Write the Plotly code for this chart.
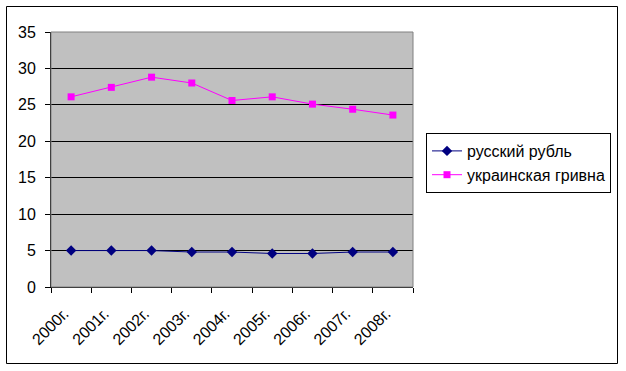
import plotly.graph_objects as go

years = ["2000г.", "2001г.", "2002г.", "2003г.", "2004г.", "2005г.", "2006г.", "2007г.", "2008г."]
rub = [5.0, 5.0, 5.0, 4.8, 4.8, 4.6, 4.6, 4.8, 4.8]
uah = [26.1, 27.4, 28.8, 28.0, 25.6, 26.1, 25.1, 24.4, 23.6]
y_ticks = [0, 5, 10, 15, 20, 25, 30, 35]

W, H = 626, 371
L, R, T, B = 51, 413, 32, 287

fig = go.Figure()
fig.add_trace(go.Scatter(x=years, y=rub, name="русский рубль", mode="lines+markers",
                         line=dict(color="#000080", width=1),
                         marker=dict(symbol="diamond", size=8, color="#000080")))
fig.add_trace(go.Scatter(x=years, y=uah, name="украинская гривна", mode="lines+markers",
                         line=dict(color="#FF00FF", width=1),
                         marker=dict(symbol="square", size=7, color="#FF00FF")))

fig.update_layout(
    width=W, height=H,
    margin=dict(l=L, r=W - R, t=T, b=H - B, pad=0, autoexpand=False),
    paper_bgcolor="white", plot_bgcolor="#C0C0C0",
    font=dict(family="Liberation Sans, Arial", size=16, color="black"),
    showlegend=True,
    legend=dict(xref="container", yref="container", x=426 / W, y=1 - 133 / H,
                xanchor="left", yanchor="top", bgcolor="white",
                bordercolor="black", borderwidth=1,
                font=dict(size=16), tracegroupgap=0),
    xaxis=dict(type="category", tickson="boundaries", ticks="outside", ticklen=5,
               tickcolor="black", showline=True, linecolor="black", showgrid=False,
               tickangle=-45, tickfont=dict(size=16), range=[-0.5, 8.5], zeroline=False,
               automargin=False, ticklabelstandoff=10, ticklabelshift=-7),
    yaxis=dict(range=[0, 35], tickvals=y_ticks, ticks="outside", ticklen=5,
               tickcolor="black", showline=True, linecolor="black",
               showgrid=True, gridcolor="black", gridwidth=1, zeroline=False,
               tickfont=dict(size=16), automargin=False, ticklabelstandoff=6),
    shapes=[
        dict(type="rect", xref="paper", yref="paper", x0=0, x1=1, y0=0, y1=1,
             line=dict(color="#808080", width=1), layer="above"),
        dict(type="rect", xref="paper", yref="paper",
             x0=-(L - 6.5) / (R - L), x1=1 + (617.5 - R) / (R - L),
             y0=-(363.5 - B) / (B - T), y1=1 + (T - 6.5) / (B - T),
             line=dict(color="black", width=1)),
    ],
)

fig.write_html("out.html", config={"displayModeBar": False},
               post_script="document.body.style.margin='0';document.body.style.padding='0';")
